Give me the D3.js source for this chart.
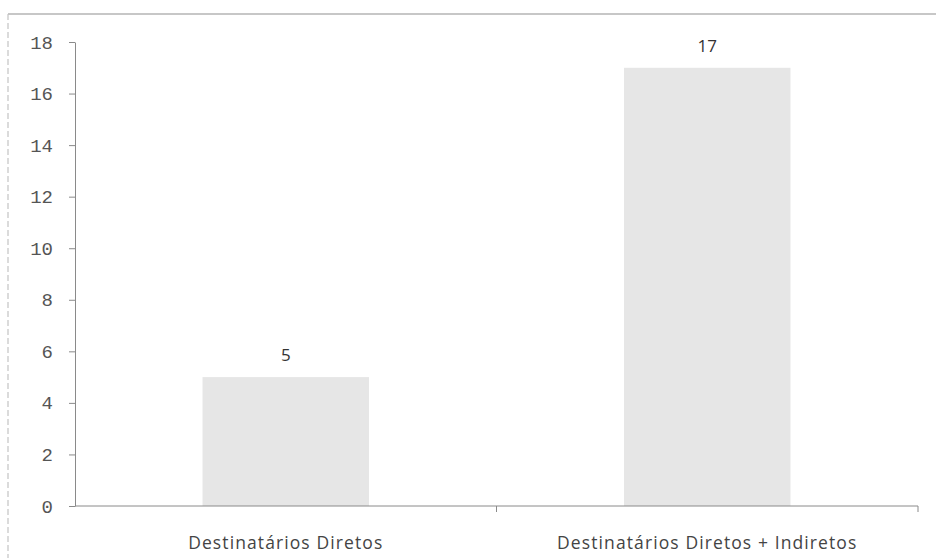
<!DOCTYPE html>
<html>
<head>
<meta charset="utf-8">
<script src="https://cdn.jsdelivr.net/npm/d3@7"></script>
<style>
  body { margin: 0; background: #fff; }
  .axis path, .axis line { stroke: #8a8a8a; }
  .y-axis text { font-family: "Liberation Mono", "DejaVu Sans Mono", monospace; font-size: 19px; fill: #555; }
  .x-axis text { font-family: "Open Sans", "Noto Sans", sans-serif; font-size: 17.5px; fill: #444; letter-spacing: 1.1px; }
  .value-label { font-family: "Open Sans", "Noto Sans", sans-serif; font-size: 17px; fill: #333; }
</style>
</head>
<body>
<div id="chart"></div>
<script>
const categories = ['Destinatários Diretos', 'Destinatários Diretos + Indiretos'];
const values = [5, 17];
const yTicks = [0, 2, 4, 6, 8, 10, 12, 14, 16, 18];

const width = 936, height = 558;
const margin = {top: 42, right: 18, bottom: 52, left: 75};

const svg = d3.select('#chart').append('svg')
    .attr('width', width)
    .attr('height', height);

// scanned frame edges
svg.append('line')
    .attr('x1', 8).attr('x2', width).attr('y1', 14).attr('y2', 14)
    .attr('stroke', '#b5b5b5').attr('stroke-width', 1.5);
svg.append('line')
    .attr('x1', 8).attr('x2', 8).attr('y1', 14).attr('y2', height)
    .attr('stroke', '#c4c4c4').attr('stroke-width', 1.2)
    .attr('stroke-dasharray', '6,3');

const xScale = d3.scaleBand()
    .domain(categories)
    .range([margin.left, width - margin.right])
    .padding(0);

const yScale = d3.scaleLinear()
    .domain([0, 18])
    .range([height - margin.bottom, margin.top]);

const barWidth = xScale.bandwidth() * 0.395;

svg.selectAll('.bar')
    .data(values)
    .join('rect')
    .attr('class', 'bar')
    .attr('x', (d, i) => xScale(categories[i]) + (xScale.bandwidth() - barWidth) / 2)
    .attr('y', d => yScale(d))
    .attr('width', barWidth)
    .attr('height', d => yScale(0) - yScale(d))
    .attr('fill', '#e6e6e6');

svg.selectAll('.value-label')
    .data(values)
    .join('text')
    .attr('class', 'value-label')
    .attr('x', (d, i) => xScale(categories[i]) + xScale.bandwidth() / 2)
    .attr('y', d => yScale(d) - 16)
    .attr('text-anchor', 'middle')
    .text(d => d);

const yAxis = d3.axisLeft(yScale)
    .tickValues(yTicks)
    .tickSize(6)
    .tickPadding(16)
    .tickSizeOuter(0);

svg.append('g')
    .attr('class', 'axis y-axis')
    .attr('transform', `translate(${margin.left},0)`)
    .call(yAxis);

// x axis with ticks at the band edges
const xAxisG = svg.append('g')
    .attr('class', 'axis x-axis')
    .attr('transform', `translate(0,${yScale(0)})`);

xAxisG.append('line')
    .attr('x1', margin.left).attr('x2', width - margin.right)
    .attr('y1', 0).attr('y2', 0)
    .attr('stroke', '#8a8a8a');

const edges = categories.map(c => xScale(c)).concat([xScale(categories[categories.length - 1]) + xScale.bandwidth()]);
xAxisG.selectAll('.edge-tick')
    .data(edges.slice(1))
    .join('line')
    .attr('class', 'edge-tick')
    .attr('x1', d => d).attr('x2', d => d)
    .attr('y1', 0).attr('y2', 6)
    .attr('stroke', '#8a8a8a');

xAxisG.selectAll('.cat-label')
    .data(categories)
    .join('text')
    .attr('class', 'cat-label')
    .attr('x', d => xScale(d) + xScale.bandwidth() / 2)
    .attr('y', 43)
    .attr('text-anchor', 'middle')
    .text(d => d);
</script>
</body>
</html>
